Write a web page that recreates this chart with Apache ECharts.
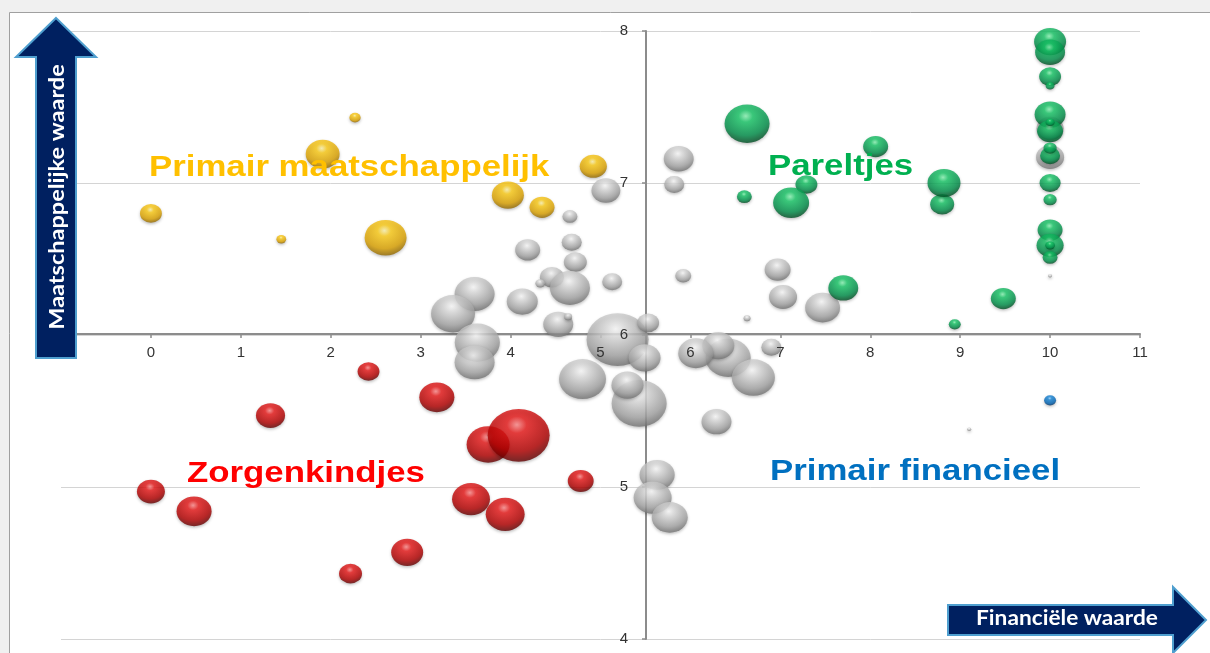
<!DOCTYPE html>
<html><head><meta charset="utf-8">
<script src="https://cdn.jsdelivr.net/npm/echarts@6/dist/echarts.min.js"></script>
<style>html,body{margin:0;padding:0;background:#f0f0f0}#c{width:1210px;height:653px}</style>
</head><body><div id="c"></div>
<script>
// [financiële waarde, maatschappelijke waarde, omvang]
const greyBubbles = [
  [5.87,7.16,56],[5.82,6.99,25],[5.06,6.95,52],[4.66,6.78,14],[4.19,6.56,39],
  [4.68,6.61,25],[4.72,6.48,33],[4.46,6.38,36],[4.33,6.34,6],[4.66,6.31,100],
  [5.13,6.35,25],[3.60,6.27,100],[3.36,6.14,121],[4.13,6.22,60],[4.53,6.07,56],
  [4.64,6.12,4],[3.63,5.95,127],[3.60,5.82,100],[5.19,5.97,240],[5.53,6.08,30],
  [5.49,5.85,64],[4.80,5.71,138],[5.43,5.55,189],[5.30,5.67,64],[5.92,6.39,16],
  [6.63,6.11,3],[6.97,6.43,42],[7.03,6.25,49],[7.47,6.18,76],[6.42,5.85,127],
  [6.31,5.93,64],[6.06,5.88,77],[6.70,5.72,116],[6.90,5.92,25],[6.29,5.43,56],
  [5.63,5.08,77],[5.58,4.93,90],[5.77,4.80,81],[9.10,5.38,1],[10,7.36,46],
  [10,7.17,49],[10,6.39,1]
];
const yellowBubbles = [
  [0,6.80,30],[1.91,7.19,72],[2.27,7.43,8],[1.45,6.63,6],[2.61,6.64,110],
  [3.97,6.92,64],[4.35,6.84,39],[4.92,7.11,46]
];
const greenBubbles = [
  [6.63,7.39,127],[6.60,6.91,14],[7.29,6.99,30],[7.12,6.87,81],[8.06,7.24,39],
  [8.80,6.86,36],[8.82,7.00,68],[7.70,6.31,56],[9.48,6.24,39],[8.94,6.07,9],
  [10,7.93,64],[10,7.86,56],[10,7.70,30],[10,7.45,60],[10,7.34,42],[10,7.18,25],
  [10,7.00,28],[10,6.89,11],[10,6.69,39],[10,6.59,46],[10,6.51,14],[10,7.64,5],
  [10,7.40,5],[10,7.23,11],[10,6.59,6]
];
const redBubbles = [
  [3.18,5.59,77],[1.33,5.47,53],[2.42,5.76,30],[0,4.97,49],[0.48,4.84,77],
  [2.22,4.43,33],[2.85,4.57,64],[3.75,5.28,116],[4.09,5.34,240],[3.56,4.92,90],
  [3.94,4.82,95],[4.78,5.04,42]
];
const blueBubbles = [[10,5.57,9]];

const xTickLabels = ['0','1','2','3','4','5','6','7','8','9','10','11'];
const yTickLabels = ['4','5','6','7','8'];
const quadrantNames = ['Primair maatschappelijk','Pareltjes','Zorgenkindjes','Primair financieel'];
const axisNames = ['Maatschappelijke waarde','Financiële waarde'];

const ellipse = 'path://M0,50A50,50,0,1,1,100,50A50,50,0,1,1,0,50Z';
function sphere(c0,c1,c2,c3){
  return {type:'radial',x:0.47,y:0.3,r:0.72,colorStops:[
    {offset:0,color:c0},{offset:0.22,color:c1},{offset:0.7,color:c2},{offset:1,color:c3}]};
}
function bubbleSeries(data, grad){
  return {
    type:'scatter', data:data, symbol:ellipse,
    symbolSize:function(v){const w=Math.sqrt(v[2])*4; return [w, w*0.85];},
    itemStyle:{color:grad, shadowBlur:3, shadowColor:'rgba(0,0,0,0.3)', shadowOffsetY:1.5},
    emphasis:{disabled:true}, silent:true, animation:false
  };
}

const chart = echarts.init(document.getElementById('c'));
const axisLbl = {fontSize:15, color:'#333', fontFamily:'"Liberation Sans", Arial, sans-serif'};
chart.setOption({
  backgroundColor:'#f0f0f0',
  animation:false,
  grid:{left:61, right:70, top:31, bottom:14, containLabel:false},
  xAxis:[
    {type:'value', min:-1, max:11, interval:1, position:'bottom', offset:-305, z:0,
     axisLine:{show:true, onZero:false, lineStyle:{color:'#8c8c8c', width:2}},
     axisTick:{show:true, length:4, lineStyle:{color:'#8c8c8c', width:1.5}},
     axisLabel:{show:false}, splitLine:{show:false}},
    {type:'value', min:-1, max:11, interval:1, position:'bottom', offset:-305, z:10,
     axisLine:{show:false, onZero:false}, axisTick:{show:false}, splitLine:{show:false},
     axisLabel:Object.assign({show:true, margin:11, formatter:function(v){return v>=0 ? xTickLabels[v] : '';}}, axisLbl)}
  ],
  yAxis:[
    {type:'value', min:4, max:8, interval:1, position:'left', offset:-585, z:0,
     axisLine:{show:true, onZero:false, lineStyle:{color:'#8c8c8c', width:2}},
     axisTick:{show:true, length:4, lineStyle:{color:'#8c8c8c', width:1.5}},
     axisLabel:{show:false}, splitLine:{show:true, lineStyle:{color:'#d4d4d4', width:1}}},
    {type:'value', min:4, max:8, interval:1, position:'left', offset:-585, z:10,
     axisLine:{show:false, onZero:false}, axisTick:{show:false}, splitLine:{show:false},
     axisLabel:Object.assign({show:true, margin:18, formatter:function(v){return yTickLabels[v-4];}}, axisLbl)}
  ],
  series:[
    bubbleSeries(greyBubbles, sphere('#ffffff','#e0e0e0','#a6a6a6','#6e6e6e')),
    bubbleSeries(yellowBubbles, sphere('#fff5b0','#ffce18','#dda300','#8a6200')),
    bubbleSeries(greenBubbles, sphere('#8af5b4','#18c868','#00904a','#00461f')),
    bubbleSeries(redBubbles, sphere('#ff8a8a','#ea1a1a','#b40000','#5a0000')),
    bubbleSeries(blueBubbles, sphere('#96d0ff','#1686d8','#0062b2','#002c5c'))
  ],
  graphic:[
    {type:'rect', z:-100, silent:true, shape:{x:9.5,y:12.5,width:1220,height:660},
     style:{fill:'#ffffff', stroke:'#a0a0a0', lineWidth:1}},
    {type:'polygon', z:100, silent:true,
     shape:{points:[[56,18],[96,57],[76,57],[76,358],[36,358],[36,57],[16,57]]},
     style:{fill:'#002060', stroke:'#4f9fcf', lineWidth:2}},
    {type:'text', z:101, silent:true, x:57, y:197, rotation:Math.PI/2, scaleX:1.12,
     style:{text:axisNames[0], fill:'#ffffff', font:'bold 21px Lato, "Open Sans", sans-serif', textAlign:'center', textVerticalAlign:'middle'}},
    {type:'polygon', z:100, silent:true,
     shape:{points:[[948,605],[1173,605],[1173,587],[1206,620],[1173,653],[1173,635],[948,635]]},
     style:{fill:'#002060', stroke:'#4f9fcf', lineWidth:2}},
    {type:'text', z:101, silent:true, x:1067, y:618, scaleX:1.08,
     style:{text:axisNames[1], fill:'#ffffff', font:'bold 21px Lato, "Open Sans", sans-serif', textAlign:'center', textVerticalAlign:'middle'}},
    {type:'text', z:50, silent:true, x:149, y:168, scaleX:1.16,
     style:{text:quadrantNames[0], fill:'#FFC000', font:'bold 30px "Liberation Sans", Arial, sans-serif', textAlign:'left', textVerticalAlign:'middle'}},
    {type:'text', z:50, silent:true, x:768, y:167, scaleX:1.16,
     style:{text:quadrantNames[1], fill:'#00B050', font:'bold 30px "Liberation Sans", Arial, sans-serif', textAlign:'left', textVerticalAlign:'middle'}},
    {type:'text', z:50, silent:true, x:187, y:474, scaleX:1.16,
     style:{text:quadrantNames[2], fill:'#FF0000', font:'bold 30px "Liberation Sans", Arial, sans-serif', textAlign:'left', textVerticalAlign:'middle'}},
    {type:'text', z:50, silent:true, x:770, y:472, scaleX:1.16,
     style:{text:quadrantNames[3], fill:'#0070C0', font:'bold 30px "Liberation Sans", Arial, sans-serif', textAlign:'left', textVerticalAlign:'middle'}}
  ]
});
</script></body></html>
